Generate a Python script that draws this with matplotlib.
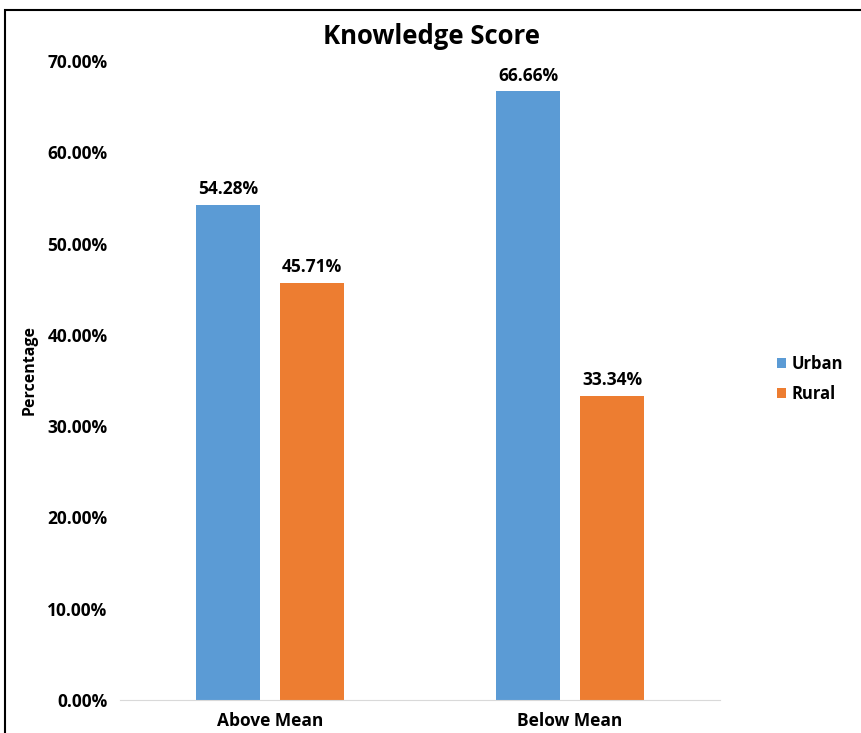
import matplotlib
matplotlib.use("Agg")
import matplotlib.pyplot as plt
import numpy as np
from matplotlib.patches import Rectangle

categories = ["Above Mean", "Below Mean"]
series_names = ["Urban", "Rural"]
urban = [54.28, 66.66]
rural = [45.71, 33.34]
yticks = [0, 10, 20, 30, 40, 50, 60, 70]

colors = ["#5B9BD5", "#ED7D31"]
plt.rcParams['font.family'] = ['Open Sans', 'DejaVu Sans']

fig = plt.figure(figsize=(8.62, 7.33), dpi=100)
ax = fig.add_axes([120/862, 1-700/733, 600/862, (700-61)/733])

x = np.arange(len(categories))
w = 0.215
gap = 0.065
off = (w + gap) / 2
for vals, name, col, sgn in [(urban, "Urban", colors[0], -1), (rural, "Rural", colors[1], 1)]:
    bars = ax.bar(x + sgn*off, vals, width=w, color=col, label=name, zorder=2)
    for b, v in zip(bars, vals):
        ax.annotate(f"{v:.2f}%", (b.get_x()+b.get_width()/2, v), xytext=(0, 5),
                    textcoords="offset points", ha="center", va="bottom",
                    fontsize=12.5, fontweight="bold")

ax.set_xlim(-0.5, 1.5)
ax.set_ylim(0, 70)
ax.set_yticks(yticks)
ax.set_yticklabels([f"{t:.2f}%" for t in yticks], fontsize=12.5, fontweight="bold")
ax.set_xticks(x)
ax.set_xticklabels(categories, fontsize=12.5, fontweight="bold")
ax.tick_params(length=0, pad=9, axis='y')
ax.tick_params(length=0, pad=9, axis='x')
for s in ["top", "right", "left"]:
    ax.spines[s].set_visible(False)
ax.spines["bottom"].set_color("#D9D9D9")
ax.set_ylabel("Percentage", fontsize=11.5, fontweight="bold")
ax.yaxis.set_label_coords(-(120-38)/600, (700-370)/639)

fig.text(432/862, 1-36/733, "Knowledge Score", ha="center", va="center",
         fontsize=18.5, fontweight="bold")

leg = fig.legend(loc="center left", bbox_to_anchor=(762/862, 1-379/733),
                 frameon=False, handlelength=0.55, handleheight=0.55,
                 handletextpad=0.35, labelspacing=0.75,
                 prop={"size": 12, "weight": "bold"})

fig.patches.append(Rectangle((5/862, -0.1), 1.2, 1-10/733+0.1, transform=fig.transFigure,
                             fill=False, edgecolor="black", linewidth=1.5, zorder=10))

fig.savefig("out.png", dpi=100)
